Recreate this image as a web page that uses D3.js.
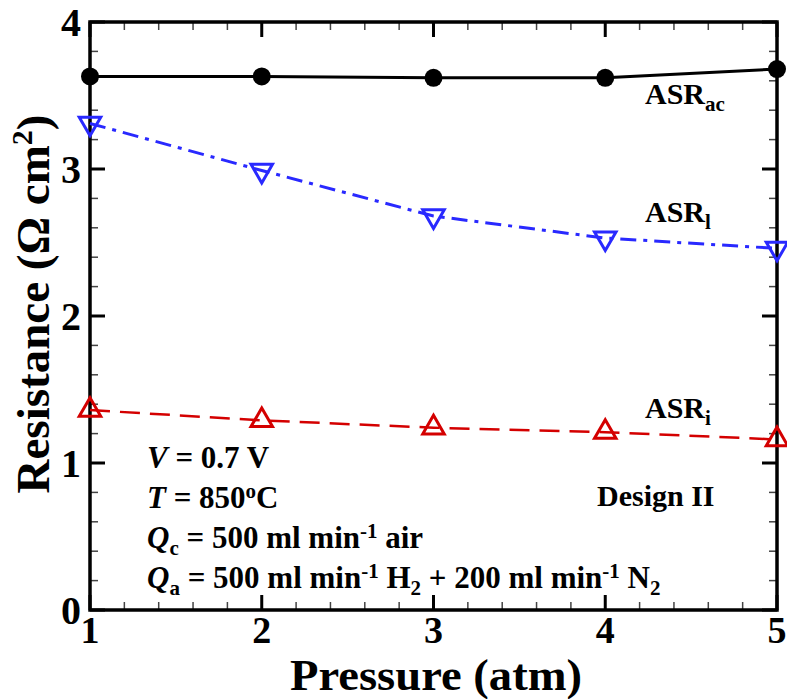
<!DOCTYPE html>
<html>
<head>
<meta charset="utf-8">
<script src="https://cdn.jsdelivr.net/npm/d3@7"></script>
<style>
  body { margin: 0; background: #fff; }
  text { font-family: "Liberation Serif", "Times New Roman", serif; font-weight: bold; }
</style>
</head>
<body>
<div id="chart-area"></div>
<script>
const pressure = [1, 2, 3, 4, 5]
const asrAc = [3.63, 3.63, 3.62, 3.62, 3.68]
const asrL = [3.31, 2.99, 2.68, 2.53, 2.46]
const asrI = [1.36, 1.29, 1.24, 1.21, 1.16]
const xTicks = [1, 2, 3, 4, 5]
const yTicks = [0, 1, 2, 3, 4]

const MARGIN = { LEFT: 90, RIGHT: 10, TOP: 22, BOTTOM: 89 }
const WIDTH = 787 - MARGIN.LEFT - MARGIN.RIGHT
const HEIGHT = 699 - MARGIN.TOP - MARGIN.BOTTOM

const svg = d3.select("#chart-area").append("svg")
    .attr("width", 787)
    .attr("height", 699)

const g = svg.append("g")
    .attr("transform", `translate(${MARGIN.LEFT}, ${MARGIN.TOP})`)

const x = d3.scaleLinear().domain([1, 5]).range([0, WIDTH])
const y = d3.scaleLinear().domain([0, 4]).range([HEIGHT, 0])

const xMinor = d3.range(1, 5.001, 0.2).filter(v => Math.abs(v - Math.round(v)) > 1e-6)
const yMinor = d3.range(0, 4.001, 0.2).filter(v => Math.abs(v - Math.round(v)) > 1e-6)

// ticks on all four sides, pointing inward
const tickG = g.append("g")
function tick(x1, y1, x2, y2, major) {
    tickG.append("line").attr("x1", x1).attr("y1", y1).attr("x2", x2).attr("y2", y2)
        .attr("stroke", major ? "#000" : "#444")
        .attr("stroke-width", major ? 3 : 1.5)
}
xMinor.forEach(v => {
    tick(x(v), HEIGHT, x(v), HEIGHT - 8, false)
    tick(x(v), 0, x(v), 8, false)
})
yMinor.forEach(v => {
    tick(0, y(v), 8, y(v), false)
    tick(WIDTH, y(v), WIDTH - 8, y(v), false)
})
xTicks.forEach(v => {
    tick(x(v), HEIGHT, x(v), HEIGHT - 15, true)
    tick(x(v), 0, x(v), 15, true)
})
yTicks.forEach(v => {
    tick(0, y(v), 15, y(v), true)
    tick(WIDTH, y(v), WIDTH - 15, y(v), true)
})

// frame
g.append("rect").attr("width", WIDTH).attr("height", HEIGHT)
    .attr("fill", "none").attr("stroke", "#000").attr("stroke-width", 3.5)

// tick labels
g.selectAll(".xlab").data(xTicks).enter().append("text")
    .attr("x", d => x(d)).attr("y", HEIGHT + 33)
    .attr("text-anchor", "middle").attr("font-size", "38px")
    .text(d => d)
g.selectAll(".ylab").data(yTicks).enter().append("text")
    .attr("x", -9).attr("y", d => y(d) + 14)
    .attr("text-anchor", "end").attr("font-size", "40px")
    .text(d => d)

// axis titles
g.append("text").attr("x", 436 - MARGIN.LEFT).attr("y", 690 - MARGIN.TOP)
    .attr("text-anchor", "middle").attr("font-size", "44px")
    .attr("textLength", 292).attr("lengthAdjust", "spacingAndGlyphs")
    .text("Pressure (atm)")
const yt = g.append("text").attr("transform", "rotate(-90)")
    .attr("x", -(304 - MARGIN.TOP)).attr("y", -41)
    .attr("text-anchor", "middle").attr("font-size", "47px")
yt.append("tspan").text("Resistance (Ω cm")
yt.append("tspan").attr("dy", -17).attr("font-size", "30px").text("2")
yt.append("tspan").attr("dy", 17).text(")")

// series
const line = d3.line().x((d, i) => x(pressure[i])).y(d => y(d))
const tri = d3.symbol().type(d3.symbolTriangle).size(200)

g.append("path").datum(asrAc).attr("d", line)
    .attr("fill", "none").attr("stroke", "#000").attr("stroke-width", 3)
g.selectAll(".ac").data(asrAc).enter().append("circle")
    .attr("cx", (d, i) => x(pressure[i])).attr("cy", d => y(d)).attr("r", 9)
    .attr("fill", "#000")

g.append("path").datum(asrL).attr("d", line)
    .attr("fill", "none").attr("stroke", "#2929ff").attr("stroke-width", 3)
    .attr("stroke-dasharray", "16,7,4,7")
g.selectAll(".l").data(asrL).enter().append("path")
    .attr("d", tri)
    .attr("transform", (d, i) => `translate(${x(pressure[i])},${y(d)}) rotate(180)`)
    .attr("fill", "none").attr("stroke", "#2929ff").attr("stroke-width", 3)

g.append("path").datum(asrI).attr("d", line)
    .attr("fill", "none").attr("stroke", "#d40000").attr("stroke-width", 2.5)
    .attr("stroke-dasharray", "20,10")
g.selectAll(".i").data(asrI).enter().append("path")
    .attr("d", tri)
    .attr("transform", (d, i) => `translate(${x(pressure[i])},${y(d)})`)
    .attr("fill", "none").attr("stroke", "#d40000").attr("stroke-width", 3)

// series labels
function seriesLabel(xp, yp, sub) {
    const t = g.append("text").attr("x", xp - MARGIN.LEFT).attr("y", yp - MARGIN.TOP).attr("font-size", "30px")
    t.append("tspan").text("ASR")
    t.append("tspan").attr("dy", 7).attr("font-size", "21px").text(sub)
}
seriesLabel(645, 104, "ac")
seriesLabel(645, 222, "l")
seriesLabel(645, 418, "i")

g.append("text").attr("x", 597 - MARGIN.LEFT).attr("y", 506 - MARGIN.TOP)
    .attr("font-size", "30px").text("Design II")

// conditions
const FS = "31px", SFS = "21px"
const cx0 = 147 - MARGIN.LEFT
const c1 = g.append("text").attr("x", cx0).attr("y", 468 - MARGIN.TOP).attr("font-size", FS)
c1.append("tspan").attr("font-style", "italic").text("V")
c1.append("tspan").text(" = 0.7 V")
const c2 = g.append("text").attr("x", cx0).attr("y", 508 - MARGIN.TOP).attr("font-size", FS)
c2.append("tspan").attr("font-style", "italic").text("T")
c2.append("tspan").text(" = 850")
c2.append("tspan").attr("dy", -10).attr("font-size", SFS).text("o")
c2.append("tspan").attr("dy", 10).text("C")
const c3 = g.append("text").attr("x", cx0).attr("y", 548 - MARGIN.TOP).attr("font-size", FS)
c3.append("tspan").attr("font-style", "italic").text("Q")
c3.append("tspan").attr("dy", 7).attr("font-size", SFS).text("c")
c3.append("tspan").attr("dy", -7).text(" = 500 ml min")
c3.append("tspan").attr("dy", -10).attr("font-size", SFS).text("-1")
c3.append("tspan").attr("dy", 10).text(" air")
const c4 = g.append("text").attr("x", cx0).attr("y", 588 - MARGIN.TOP).attr("font-size", FS)
c4.append("tspan").attr("font-style", "italic").text("Q")
c4.append("tspan").attr("dy", 7).attr("font-size", SFS).text("a")
c4.append("tspan").attr("dy", -7).text(" = 500 ml min")
c4.append("tspan").attr("dy", -10).attr("font-size", SFS).text("-1")
c4.append("tspan").attr("dy", 10).text(" H")
c4.append("tspan").attr("dy", 7).attr("font-size", SFS).text("2")
c4.append("tspan").attr("dy", -7).text(" + 200 ml min")
c4.append("tspan").attr("dy", -10).attr("font-size", SFS).text("-1")
c4.append("tspan").attr("dy", 10).text(" N")
c4.append("tspan").attr("dy", 7).attr("font-size", SFS).text("2")
</script>
</body>
</html>
